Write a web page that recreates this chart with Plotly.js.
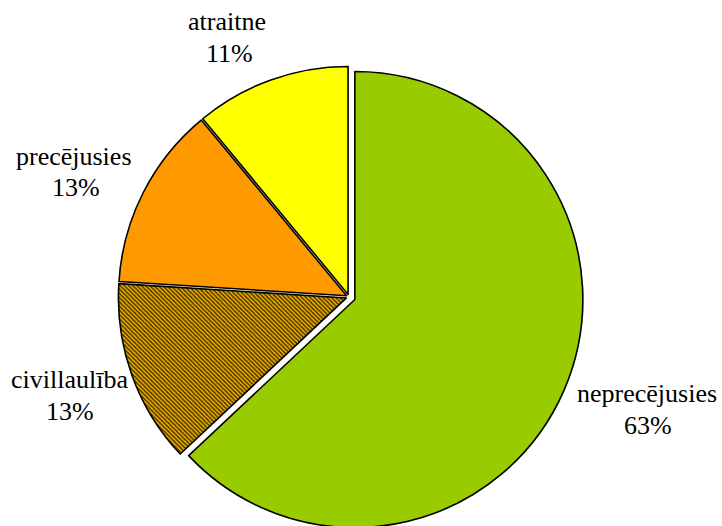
<!DOCTYPE html>
<html>
<head>
<meta charset="utf-8">
<script src="https://cdn.plot.ly/plotly-3.0.1.min.js"></script>
<style>
html,body{margin:0;padding:0;overflow:hidden;background:#fff;width:722px;height:526px;}
#chart{width:722px;height:600px;}
</style>
</head>
<body>
<div id="chart"></div>
<script>
// Data
const categories = ["neprecējusies", "civillaulība", "precējusies", "atraitne"];
const values = [63, 13, 13, 11];
const sliceColors = ["#99CC00", "#E8AA00", "#FF9900", "#FFFF00"];
const patternShapes = ["", "\\", "", ""];
const pulls = [0.028, 0.012, 0.012, 0.012];

// Label positions (pixels in the 722x526 view): [name x, name y, pct x, pct y]
const labelPos = [
  [647, 393, 648, 425],
  [69, 379, 70, 411],
  [74, 156, 76, 187],
  [227, 22, 229, 54]
];

const W = 722, H = 600;
const cx = 349, cy = 297, R = 228;
const maxPull = Math.max(...pulls);
const half = R * (1 + maxPull);

const total = values.reduce((a, b) => a + b, 0);

const trace = {
  type: "pie",
  labels: categories,
  values: values,
  sort: false,
  direction: "clockwise",
  rotation: 0,
  pull: pulls,
  textinfo: "none",
  hoverinfo: "label+percent",
  marker: {
    colors: sliceColors,
    line: {color: "#000000", width: 1.6},
    pattern: {
      shape: patternShapes,
      fgcolor: "#2e2200",
      bgcolor: sliceColors,
      size: 3,
      solidity: 0.4
    }
  },
  domain: {
    x: [(cx - half) / W, (cx + half) / W],
    y: [(H - cy - half) / H, (H - cy + half) / H]
  },
  showlegend: false
};

const serif = "'Times New Roman', 'Liberation Serif', serif";
const fnt = {family: serif, size: 26, color: "#000"};

const annotations = [];
categories.forEach((c, i) => {
  const p = labelPos[i];
  annotations.push({
    text: c, x: p[0] / W, y: 1 - p[1] / H,
    xref: "paper", yref: "paper", xanchor: "center", yanchor: "middle",
    showarrow: false, font: fnt
  });
  annotations.push({
    text: Math.round(values[i] / total * 100) + "%", x: p[2] / W, y: 1 - p[3] / H,
    xref: "paper", yref: "paper", xanchor: "center", yanchor: "middle",
    showarrow: false, font: fnt
  });
});

const layout = {
  width: W, height: H,
  margin: {l: 0, r: 0, t: 0, b: 0},
  paper_bgcolor: "#ffffff",
  font: {family: serif},
  showlegend: false,
  annotations: annotations
};

Plotly.newPlot("chart", [trace], layout, {displayModeBar: false, staticPlot: true});
</script>
</body>
</html>
